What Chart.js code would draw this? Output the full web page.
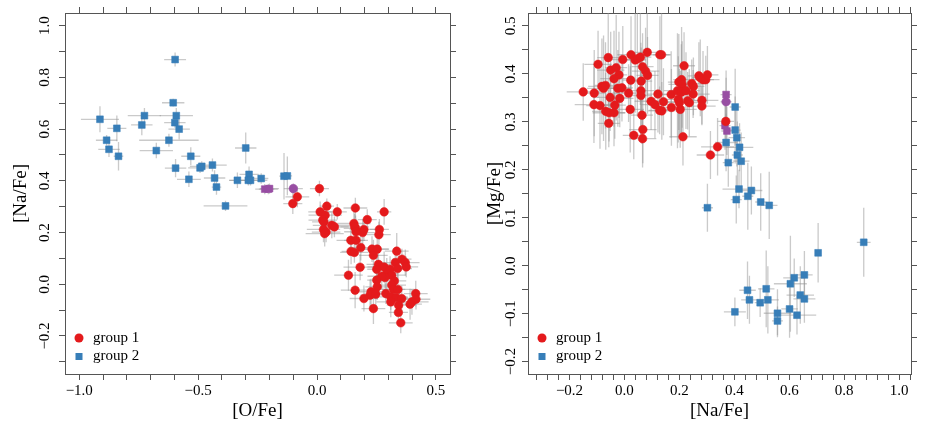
<!DOCTYPE html>
<html>
<head>
<meta charset="utf-8">
<script src="https://cdn.jsdelivr.net/npm/chart.js@4.4.1/dist/chart.umd.min.js"></script>
<style>
  body { margin: 0; background: #fff; }
  #wrap { position: relative; width: 926px; height: 434px; }
  canvas { position: absolute; top: 0; }
</style>
</head>
<body>
<div id="wrap">
  <canvas id="left" width="463" height="434" style="left:0"></canvas>
  <canvas id="right" width="463" height="434" style="left:463px"></canvas>
</div>
<script>
// ---- left panel: [O/Fe] vs [Na/Fe] ----
const ofeG1 = [
  0.010,-0.083,-0.102,0.041,0.161,0.282,0.013,0.085,0.034,0.024,
  0.029,0.211,0.062,0.073,0.155,0.162,0.197,0.192,0.262,0.260,
  0.027,0.038,0.032,0.142,0.164,0.184,0.143,0.157,0.231,0.253,
  0.237,0.335,0.181,0.258,0.357,0.371,0.375,0.329,0.282,0.307,
  0.339,0.251,0.293,0.314,0.286,0.272,0.132,0.251,0.325,0.253,
  0.314,0.321,0.340,0.160,0.227,0.223,0.247,0.289,0.310,0.332,
  0.356,0.310,0.415,0.416,0.399,0.391,0.197,0.343,0.342,0.237,
  0.352,0.158,0.164
];
const nafeG1L = [
  0.370,0.338,0.312,0.302,0.295,0.280,0.280,0.280,0.267,0.248,
  0.241,0.250,0.228,0.222,0.235,0.216,0.212,0.200,0.212,0.192,
  0.212,0.202,0.196,0.170,0.170,0.142,0.127,0.123,0.136,0.136,
  0.112,0.128,0.066,0.077,0.097,0.084,0.067,0.084,0.067,0.058,
  0.061,0.058,0.042,0.035,0.026,0.031,0.035,0.016,0.013,-0.010,
  -0.003,-0.020,-0.020,-0.023,-0.029,-0.042,-0.038,-0.036,-0.049,-0.051,
  -0.055,-0.068,-0.036,-0.058,-0.068,-0.077,-0.055,-0.081,-0.109,-0.094,
  -0.149,0.222,0.203
];
const ofeErrG1 = [
  0.04,0.05,0.04,0.03,0.05,0.03,0.05,0.04,0.07,0.06,
  0.05,0.04,0.08,0.06,0.07,0.05,0.06,0.05,0.04,0.05,
  0.07,0.06,0.08,0.06,0.05,0.05,0.04,0.06,0.07,0.05,
  0.06,0.05,0.07,0.05,0.04,0.06,0.05,0.06,0.07,0.05,
  0.06,0.04,0.05,0.06,0.05,0.06,0.06,0.04,0.05,0.05,
  0.06,0.05,0.07,0.06,0.05,0.04,0.05,0.06,0.07,0.05,
  0.04,0.06,0.05,0.06,0.07,0.05,0.06,0.05,0.04,0.05,
  0.05,0.06,0.05
];
const nafeErrG1L = [
  0.03,0.04,0.04,0.03,0.04,0.05,0.04,0.03,0.05,0.04,
  0.05,0.04,0.05,0.04,0.06,0.05,0.04,0.05,0.04,0.05,
  0.05,0.04,0.05,0.04,0.06,0.05,0.05,0.04,0.05,0.04,
  0.06,0.07,0.05,0.05,0.04,0.05,0.04,0.05,0.06,0.05,
  0.04,0.05,0.06,0.05,0.04,0.05,0.06,0.05,0.04,0.05,
  0.04,0.05,0.06,0.07,0.05,0.06,0.05,0.04,0.05,0.04,
  0.05,0.06,0.05,0.04,0.05,0.06,0.05,0.04,0.05,0.06,
  0.04,0.05,0.05
];

const ofeG2 = [
  -0.597,-0.605,-0.913,-0.726,-0.592,-0.737,-0.598,-0.842,-0.580,-0.885,
  -0.875,-0.835,-0.623,-0.676,-0.300,-0.531,-0.595,-0.492,-0.485,-0.440,
  -0.539,-0.431,-0.423,-0.335,-0.286,-0.289,-0.280,-0.235,-0.139,-0.125,
  -0.385
];
const nafeG2L = [
  0.869,0.702,0.638,0.652,0.652,0.616,0.625,0.603,0.600,0.557,
  0.522,0.495,0.557,0.517,0.527,0.495,0.449,0.450,0.456,0.461,
  0.406,0.411,0.376,0.402,0.425,0.402,0.402,0.409,0.418,0.419,
  0.303
];
const ofeErrG2 = [
  0.046,0.047,0.080,0.070,0.070,0.045,0.045,0.040,0.045,0.045,
  0.045,0.020,0.125,0.070,0.045,0.040,0.045,0.050,0.050,0.060,
  0.050,0.045,0.020,0.035,0.040,0.080,0.040,0.030,0.020,0.020,
  0.092
];
const nafeErrG2L = [
  0.027,0.015,0.050,0.030,0.030,0.040,0.020,0.050,0.040,0.020,
  0.030,0.055,0.025,0.030,0.060,0.035,0.035,0.020,0.020,0.025,
  0.030,0.030,0.030,0.030,0.030,0.020,0.020,0.020,0.090,0.075,
  0.020
];

const ofeP1 = [-0.100];
const nafeP1L = [0.370];
const ofeP2 = [-0.220, -0.205, -0.200];
const nafeP2L = [0.368, 0.368, 0.370];

// ---- right panel: [Na/Fe] vs [Mg/Fe] ----
const nafeG1R = [
  -0.150,-0.110,-0.096,-0.059,-0.050,-0.030,-0.020,-0.038,-0.006,0.024,
  0.039,0.047,0.058,0.083,0.129,0.135,0.066,0.077,0.084,0.023,
  0.061,-0.082,-0.076,-0.069,-0.024,-0.009,0.015,0.060,0.060,-0.052,
  -0.017,-0.111,-0.089,-0.035,-0.068,-0.056,-0.038,-0.057,0.021,0.064,
  0.067,0.034,0.066,0.122,0.097,0.111,0.128,0.136,0.142,0.170,
  0.171,0.198,0.208,0.210,0.217,0.193,0.207,0.224,0.196,0.200,
  0.203,0.230,0.236,0.245,0.251,0.250,0.213,0.271,0.276,0.286,
  0.296,0.302,0.282,0.282,0.369,0.339,0.313
];
const mgfeG1 = [
  0.3625,0.360,0.420,0.434,0.408,0.413,0.398,0.390,0.430,0.440,
  0.429,0.431,0.435,0.445,0.440,0.440,0.415,0.406,0.397,0.387,
  0.385,0.374,0.370,0.376,0.370,0.371,0.360,0.365,0.355,0.351,
  0.349,0.336,0.334,0.335,0.322,0.319,0.319,0.297,0.326,0.314,
  0.284,0.272,0.265,0.358,0.343,0.336,0.324,0.323,0.342,0.357,
  0.330,0.383,0.388,0.378,0.417,0.365,0.362,0.365,0.347,0.340,
  0.326,0.344,0.340,0.380,0.374,0.358,0.269,0.396,0.392,0.388,
  0.388,0.398,0.345,0.333,0.301,0.248,0.231
];
const nafeErrG1R = [
  0.06,0.04,0.05,0.04,0.05,0.04,0.03,0.05,0.04,0.05,
  0.04,0.03,0.04,0.05,0.04,0.03,0.04,0.05,0.04,0.03,
  0.04,0.05,0.06,0.04,0.05,0.04,0.06,0.05,0.04,0.06,
  0.05,0.07,0.05,0.04,0.05,0.06,0.04,0.04,0.05,0.04,
  0.05,0.04,0.05,0.04,0.06,0.05,0.04,0.05,0.05,0.04,
  0.05,0.04,0.03,0.05,0.04,0.05,0.04,0.05,0.06,0.05,
  0.06,0.05,0.04,0.05,0.04,0.06,0.05,0.04,0.03,0.04,
  0.05,0.04,0.06,0.05,0.03,0.06,0.05
];
const mgfeErrG1 = [
  0.06,0.09,0.07,0.10,0.08,0.11,0.09,0.10,0.07,0.08,
  0.11,0.12,0.10,0.09,0.08,0.10,0.07,0.09,0.08,0.06,
  0.07,0.10,0.11,0.09,0.08,0.07,0.06,0.10,0.08,0.07,
  0.06,0.08,0.09,0.07,0.08,0.06,0.07,0.05,0.09,0.06,
  0.07,0.05,0.06,0.08,0.06,0.07,0.05,0.06,0.07,0.09,
  0.08,0.10,0.11,0.09,0.07,0.12,0.10,0.08,0.09,0.07,
  0.08,0.06,0.07,0.05,0.06,0.05,0.06,0.07,0.08,0.06,
  0.05,0.06,0.05,0.04,0.05,0.06,0.05
];

const nafeG2R = [
  0.403,0.403,0.409,0.419,0.370,0.411,0.425,0.378,0.417,0.462,
  0.449,0.407,0.496,0.527,0.302,0.871,0.705,0.655,0.618,0.604,
  0.448,0.516,0.640,0.655,0.455,0.522,0.494,0.601,0.402,0.557,
  0.628,0.557
];
const mgfeG2 = [
  0.331,0.283,0.267,0.247,0.257,0.231,0.218,0.215,0.160,0.157,
  0.145,0.138,0.133,0.126,0.121,0.049,0.027,-0.019,-0.025,-0.0375,
  -0.051,-0.048,-0.061,-0.069,-0.071,-0.071,-0.077,-0.090,-0.096,-0.099,
  -0.103,-0.115
];
const nafeErrG2R = [
  0.02,0.02,0.03,0.05,0.04,0.02,0.03,0.02,0.06,0.04,
  0.02,0.02,0.02,0.03,0.02,0.025,0.01,0.03,0.04,0.06,
  0.03,0.03,0.05,0.04,0.03,0.04,0.02,0.03,0.04,0.05,
  0.07,0.02
];
const mgfeErrG2 = [
  0.08,0.07,0.06,0.05,0.06,0.07,0.06,0.05,0.04,0.05,
  0.07,0.05,0.06,0.07,0.05,0.072,0.062,0.05,0.04,0.10,
  0.06,0.08,0.06,0.05,0.05,0.07,0.03,0.06,0.03,0.05,
  0.04,0.03
];

const nafeP1R = [0.370];
const mgfeP1 = [0.342];
const nafeP2R = [0.370, 0.366, 0.373];
const mgfeP2 = [0.357, 0.292, 0.281];

const RED = '#E41A1C', BLUE = '#377EB8', PURPLE = '#984EA3';

Chart.defaults.font.family = '"Liberation Serif", "Times New Roman", serif';
Chart.defaults.color = '#000';

function pts(xs, ys, exs, eys, ex, ey) {
  return xs.map((x, i) => ({
    x: x, y: ys[i],
    ex: exs ? exs[i] : ex,
    ey: eys ? eys[i] : ey
  }));
}

function fmt(v) {
  if (Math.abs(v) < 1e-9) v = 0;
  return (v < 0 ? '\u2212' : '') + Math.abs(v).toFixed(1);
}
function labelEvery(step) {
  return v => Math.abs(v / step - Math.round(v / step)) < 1e-6 ? fmt(v) : '';
}

// grey error crosses under the points
const errorBars = {
  id: 'errorBars',
  beforeDatasetsDraw(chart) {
    const { ctx, chartArea: a } = chart;
    const xs = chart.scales.x, ys = chart.scales.y;
    ctx.save();
    ctx.beginPath();
    ctx.rect(a.left, a.top, a.right - a.left, a.bottom - a.top);
    ctx.clip();
    ctx.strokeStyle = 'rgba(150,150,150,0.5)';
    ctx.lineWidth = 1.3;
    chart.data.datasets.forEach(ds => {
      ds.data.forEach(p => {
        const px = xs.getPixelForValue(p.x), py = ys.getPixelForValue(p.y);
        ctx.beginPath();
        ctx.moveTo(xs.getPixelForValue(p.x - p.ex), py);
        ctx.lineTo(xs.getPixelForValue(p.x + p.ex), py);
        ctx.moveTo(px, ys.getPixelForValue(p.y - p.ey));
        ctx.lineTo(px, ys.getPixelForValue(p.y + p.ey));
        ctx.stroke();
      });
    });
    ctx.restore();
  }
};

// key in the lower left corner of the panel
const cornerLegend = {
  id: 'cornerLegend',
  afterDatasetsDraw(chart) {
    const { ctx, chartArea: a } = chart;
    let k = 0;
    chart.data.datasets.forEach(ds => {
      if (!ds.label) return;
      const x = a.left + 14, y = a.bottom - 36 + k * 18.5;
      ctx.save();
      ctx.fillStyle = ds.backgroundColor;
      if (ds.pointStyle === 'rect') {
        ctx.fillRect(x - 3.5, y - 3.5, 7, 7);
      } else {
        ctx.beginPath();
        ctx.arc(x, y, 4.5, 0, Math.PI * 2);
        ctx.fill();
      }
      ctx.fillStyle = '#000';
      ctx.font = '15px "Liberation Serif"';
      ctx.textBaseline = 'middle';
      ctx.fillText(ds.label, a.left + 28, y);
      ctx.restore();
      k++;
    });
  }
};

function axis(pos, min, max, step, cb, size, pad, extra) {
  const horiz = pos === 'top' || pos === 'bottom';
  return Object.assign({
    type: 'linear',
    position: pos,
    min: min,
    max: max,
    grid: { drawOnChartArea: false, tickLength: 6, color: '#555', lineWidth: 1 },
    border: { color: '#555', width: 1 },
    ticks: {
      stepSize: step,
      includeBounds: false,
      autoSkip: false,
      maxTicksLimit: 200,
      callback: cb,
      font: { size: 15 },
      padding: pad,
      maxRotation: horiz ? 0 : 90,
      minRotation: horiz ? 0 : 90,
      crossAlign: horiz ? 'near' : 'center'
    },
    afterFit(s) { if (horiz) s.height = size; else s.width = size; }
  }, extra || {});
}

function makeChart(id, c) {
  const none = () => '';
  return new Chart(document.getElementById(id), {
    type: 'scatter',
    data: { datasets: c.sets },
    options: {
      responsive: false,
      animation: false,
      events: [],
      layout: { padding: { left: 0, right: c.padRight, top: 7, bottom: 0 } },
      plugins: { legend: { display: false }, tooltip: { enabled: false } },
      scales: {
        x: axis('bottom', c.xMin, c.xMax, c.xStep, labelEvery(c.xEvery), 60, 2, {
          title: { display: true, text: c.xTitle, font: { size: 19 }, padding: { top: 0, bottom: 12 } }
        }),
        y: axis('left', c.yMin, c.yMax, c.yStep, labelEvery(c.yEvery), 65, c.yTickPad, {
          title: { display: true, text: c.yTitle, font: { size: 19 }, padding: { top: c.yTitlePad, bottom: 0 } }
        }),
        x2: axis('top', c.xMin, c.xMax, c.xStep, none, 6, 0),
        y2: axis('right', c.yMin, c.yMax, c.yStep, none, 6, 0)
      }
    },
    plugins: [errorBars, cornerLegend]
  });
}

function set(label, data, color, style, r) {
  return {
    label: label,
    data: data,
    backgroundColor: color,
    borderColor: color + '88',
    borderWidth: 1,
    pointStyle: style,
    pointRadius: r
  };
}

makeChart('left', {
  xMin: -1.06, xMax: 0.559, xStep: 0.1, xEvery: 0.5, xTitle: '[O/Fe]',
  yMin: -0.347, yMax: 1.049, yStep: 0.1, yEvery: 0.2, yTitle: '[Na/Fe]',
  padRight: 7, yTitlePad: 10, yTickPad: 0,
  sets: [
    set('group 1', pts(ofeG1, nafeG1L, ofeErrG1, nafeErrG1L), RED, 'circle', 4.3),
    set('group 2', pts(ofeG2, nafeG2L, ofeErrG2, nafeErrG2L), BLUE, 'rect', 4.8),
    set('', pts(ofeP1, nafeP1L, null, null, 0.04, 0.02), PURPLE, 'circle', 4.3),
    set('', pts(ofeP2, nafeP2L, null, null, 0.04, 0.02), PURPLE, 'rect', 4.8)
  ]
});

makeChart('right', {
  xMin: -0.351, xMax: 1.043, xStep: 0.04, xEvery: 0.2, xTitle: '[Na/Fe]',
  yMin: -0.2256, yMax: 0.527, yStep: 0.05, yEvery: 0.1, yTitle: '[Mg/Fe]',
  padRight: 9, yTitlePad: 21, yTickPad: -3,
  sets: [
    set('group 1', pts(nafeG1R, mgfeG1, nafeErrG1R, mgfeErrG1), RED, 'circle', 4.3),
    set('group 2', pts(nafeG2R, mgfeG2, nafeErrG2R, mgfeErrG2), BLUE, 'rect', 4.8),
    set('', pts(nafeP1R, mgfeP1, null, null, 0.02, 0.05), PURPLE, 'circle', 4.3),
    set('', pts(nafeP2R, mgfeP2, null, null, 0.02, 0.05), PURPLE, 'rect', 4.8)
  ]
});
</script>
</body>
</html>
